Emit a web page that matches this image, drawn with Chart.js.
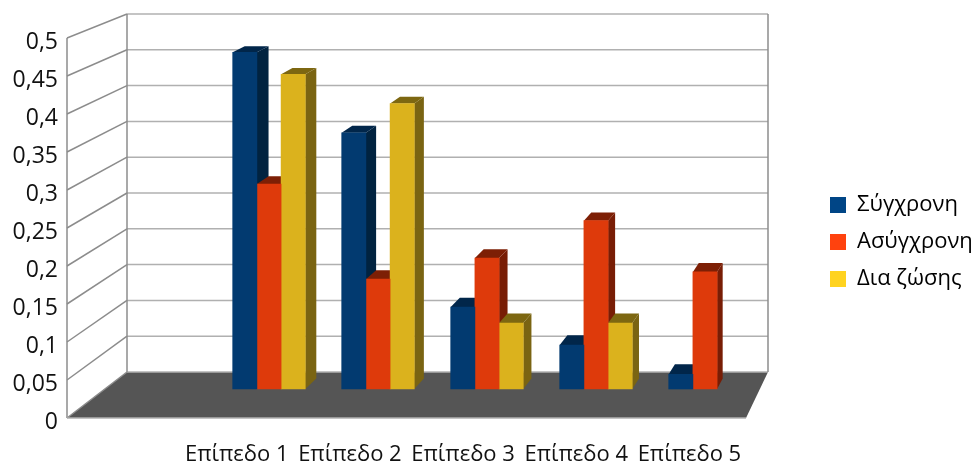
<!DOCTYPE html>
<html>
<head>
<meta charset="utf-8">
<title>Επίπεδα</title>
<style>
	html, body { margin: 0; padding: 0; background: #ffffff; }
	canvas { display: block; }
</style>
<script src="https://cdn.jsdelivr.net/npm/chart.js@4"></script>
</head>
<body>
<canvas id="levels" width="975" height="464"></canvas>
<script>
const categories = ["", "Επίπεδο 1", "Επίπεδο 2", "Επίπεδο 3", "Επίπεδο 4", "Επίπεδο 5"];
const seriesNames = ["Σύγχρονη", "Ασύγχρονη", "Δια ζώσης"];

const syncValues = [null, 0.46, 0.35, 0.112, 0.06, 0.02];
const asyncValues = [null, 0.28, 0.15, 0.179, 0.23, 0.16];
const liveValues = [null, 0.43, 0.39, 0.09, 0.09, null];

// front, side and top faces, then the flat legend swatch
const frontColors = ["#023a70", "#de3a0b", "#dbb21d"];
const sideColors = ["#012340", "#781d05", "#7a6412"];
const topColors = ["#01264a", "#7d1f05", "#7d6711"];
const legendColors = ["#004586", "#ff420e", "#ffd320"];

const FONT = "'Open Sans', sans-serif";
const TEXT = "#111111";

// perspective box: walls converge on a vanishing point up and to the right
const vanish = { x: 1139, y: -400 };
const barDepth = 0.0132;
const wallBack = { left: 127, right: 768 };
const floorColor = "#555555";
const gridColor = "#b0b0b0";
const frameColor = "#8c8c8c";

function pushBack(x, y) {
	return [x + (vanish.x - x) * barDepth, y + (vanish.y - y) * barDepth];
}

function fillPoly(ctx, points, color) {
	ctx.beginPath();
	points.forEach((p, i) => i ? ctx.lineTo(p[0], p[1]) : ctx.moveTo(p[0], p[1]));
	ctx.closePath();
	ctx.fillStyle = color;
	ctx.fill();
}

function strokeLine(ctx, x1, y1, x2, y2, color) {
	ctx.beginPath();
	ctx.moveTo(x1, y1);
	ctx.lineTo(x2, y2);
	ctx.strokeStyle = color;
	ctx.lineWidth = 1.5;
	ctx.stroke();
}

const box3d = {
	id: "box3d",
	beforeInit(chart) {
		// reserve the whole strip right of the floor for the legend
		const fit = chart.legend.fit;
		chart.legend.fit = function () {
			fit.call(this);
			this.width = 975 - 746;
		};
	},
	beforeDraw(chart) {
		chart.legend.left = 815;
		chart.legend.top = 179;
	},
	beforeDatasetsDraw(chart) {
		const ctx = chart.ctx;
		const area = chart.chartArea;
		const front = chart.scales.y;
		const back = chart.scales.yBack;
		ctx.save();

		// floor
		const y0 = back.getPixelForValue(0);
		fillPoly(ctx, [[area.left, area.bottom], [wallBack.left, y0], [wallBack.right, y0], [area.right, area.bottom]], floorColor);

		// gridlines on the back wall and left wall
		front.ticks.forEach(t => {
			const fy = front.getPixelForValue(t.value);
			const by = back.getPixelForValue(t.value);
			strokeLine(ctx, wallBack.left, by, wallBack.right, by, gridColor);
			strokeLine(ctx, area.left, fy, wallBack.left, by, frameColor);
		});

		const yTop = back.getPixelForValue(0.5);
		strokeLine(ctx, area.left, area.top, area.left, area.bottom, frameColor);
		strokeLine(ctx, wallBack.left, yTop, wallBack.left, y0, frameColor);
		strokeLine(ctx, wallBack.right, yTop, wallBack.right, y0, frameColor);
		strokeLine(ctx, area.left, area.bottom, area.right, area.bottom, gridColor);

		// side and top faces of the bars, left to right so nearer ones overlap
		chart.data.datasets.forEach((ds, i) => {
			chart.getDatasetMeta(i).data.forEach((bar, k) => {
				if (ds.data[k].y === null) return;
				const left = bar.x - bar.width / 2;
				const right = bar.x + bar.width / 2;
				fillPoly(ctx, [[right, bar.y], pushBack(right, bar.y), pushBack(right, bar.base), [right, bar.base]], sideColors[i]);
				fillPoly(ctx, [[left, bar.y], [right, bar.y], pushBack(right, bar.y), pushBack(left, bar.y)], topColors[i]);
			});
		});
		ctx.restore();
	}
};

const seriesValues = [syncValues, asyncValues, liveValues];

new Chart(document.getElementById("levels"), {
	type: "bar",
	plugins: [box3d],
	data: {
		labels: categories,
		datasets: seriesNames.map((name, i) => ({
			label: name,
			data: seriesValues[i].map((v, k) => ({ x: k, y: v })),
			backgroundColor: frontColors[i],
			xAxisID: "xBars",
			yAxisID: "yBars",
			clip: false,
			barThickness: 24.2,
		}))
	},
	options: {
		responsive: false,
		animation: false,
		devicePixelRatio: 1,
		layout: { padding: { top: 38, left: 0, right: 0, bottom: 0 } },
		plugins: {
			tooltip: { enabled: false },
			legend: {
				position: "right",
				align: "start",
				labels: {
					color: TEXT,
					font: { family: FONT, size: 22 },
					boxWidth: 16,
					boxHeight: 16,
					padding: 15,
					generateLabels: chart => chart.data.datasets.map((ds, i) => ({
						text: ds.label,
						fillStyle: legendColors[i],
						strokeStyle: legendColors[i],
						lineWidth: 0,
						datasetIndex: i,
					})),
				},
			},
		},
		scales: {
			x: {
				type: "category",
				offset: true,
				grid: { display: false },
				border: { display: false },
				afterFit: s => { s.height = 46; },
				ticks: {
					color: TEXT,
					font: { family: FONT, size: 22 },
					padding: 16,
					autoSkip: false,
					maxRotation: 0,
					minRotation: 0,
				},
			},
			y: {
				min: 0,
				max: 0.5,
				grid: { display: false },
				border: { display: false },
				afterFit: s => { s.width = 67; },
				ticks: {
					stepSize: 0.05,
					color: TEXT,
					font: { family: FONT, size: 23 },
					padding: 1,
					labelOffset: 4,
					callback: v => String(Math.round(v * 100) / 100).replace(".", ","),
				},
			},
			// bars stand on a plane between the front edge and the back wall
			xBars: { type: "linear", display: false, offset: false, min: -0.8532, max: 5.3761, grid: { display: false } },
			yBars: { type: "linear", display: false, min: -0.03962, max: 0.4795, grid: { display: false } },
			// only used to place the gridlines on the back wall
			yBack: { type: "linear", display: false, min: -0.06425, max: 0.46648, grid: { display: false } },
		}
	}
});
</script>
</body>
</html>
